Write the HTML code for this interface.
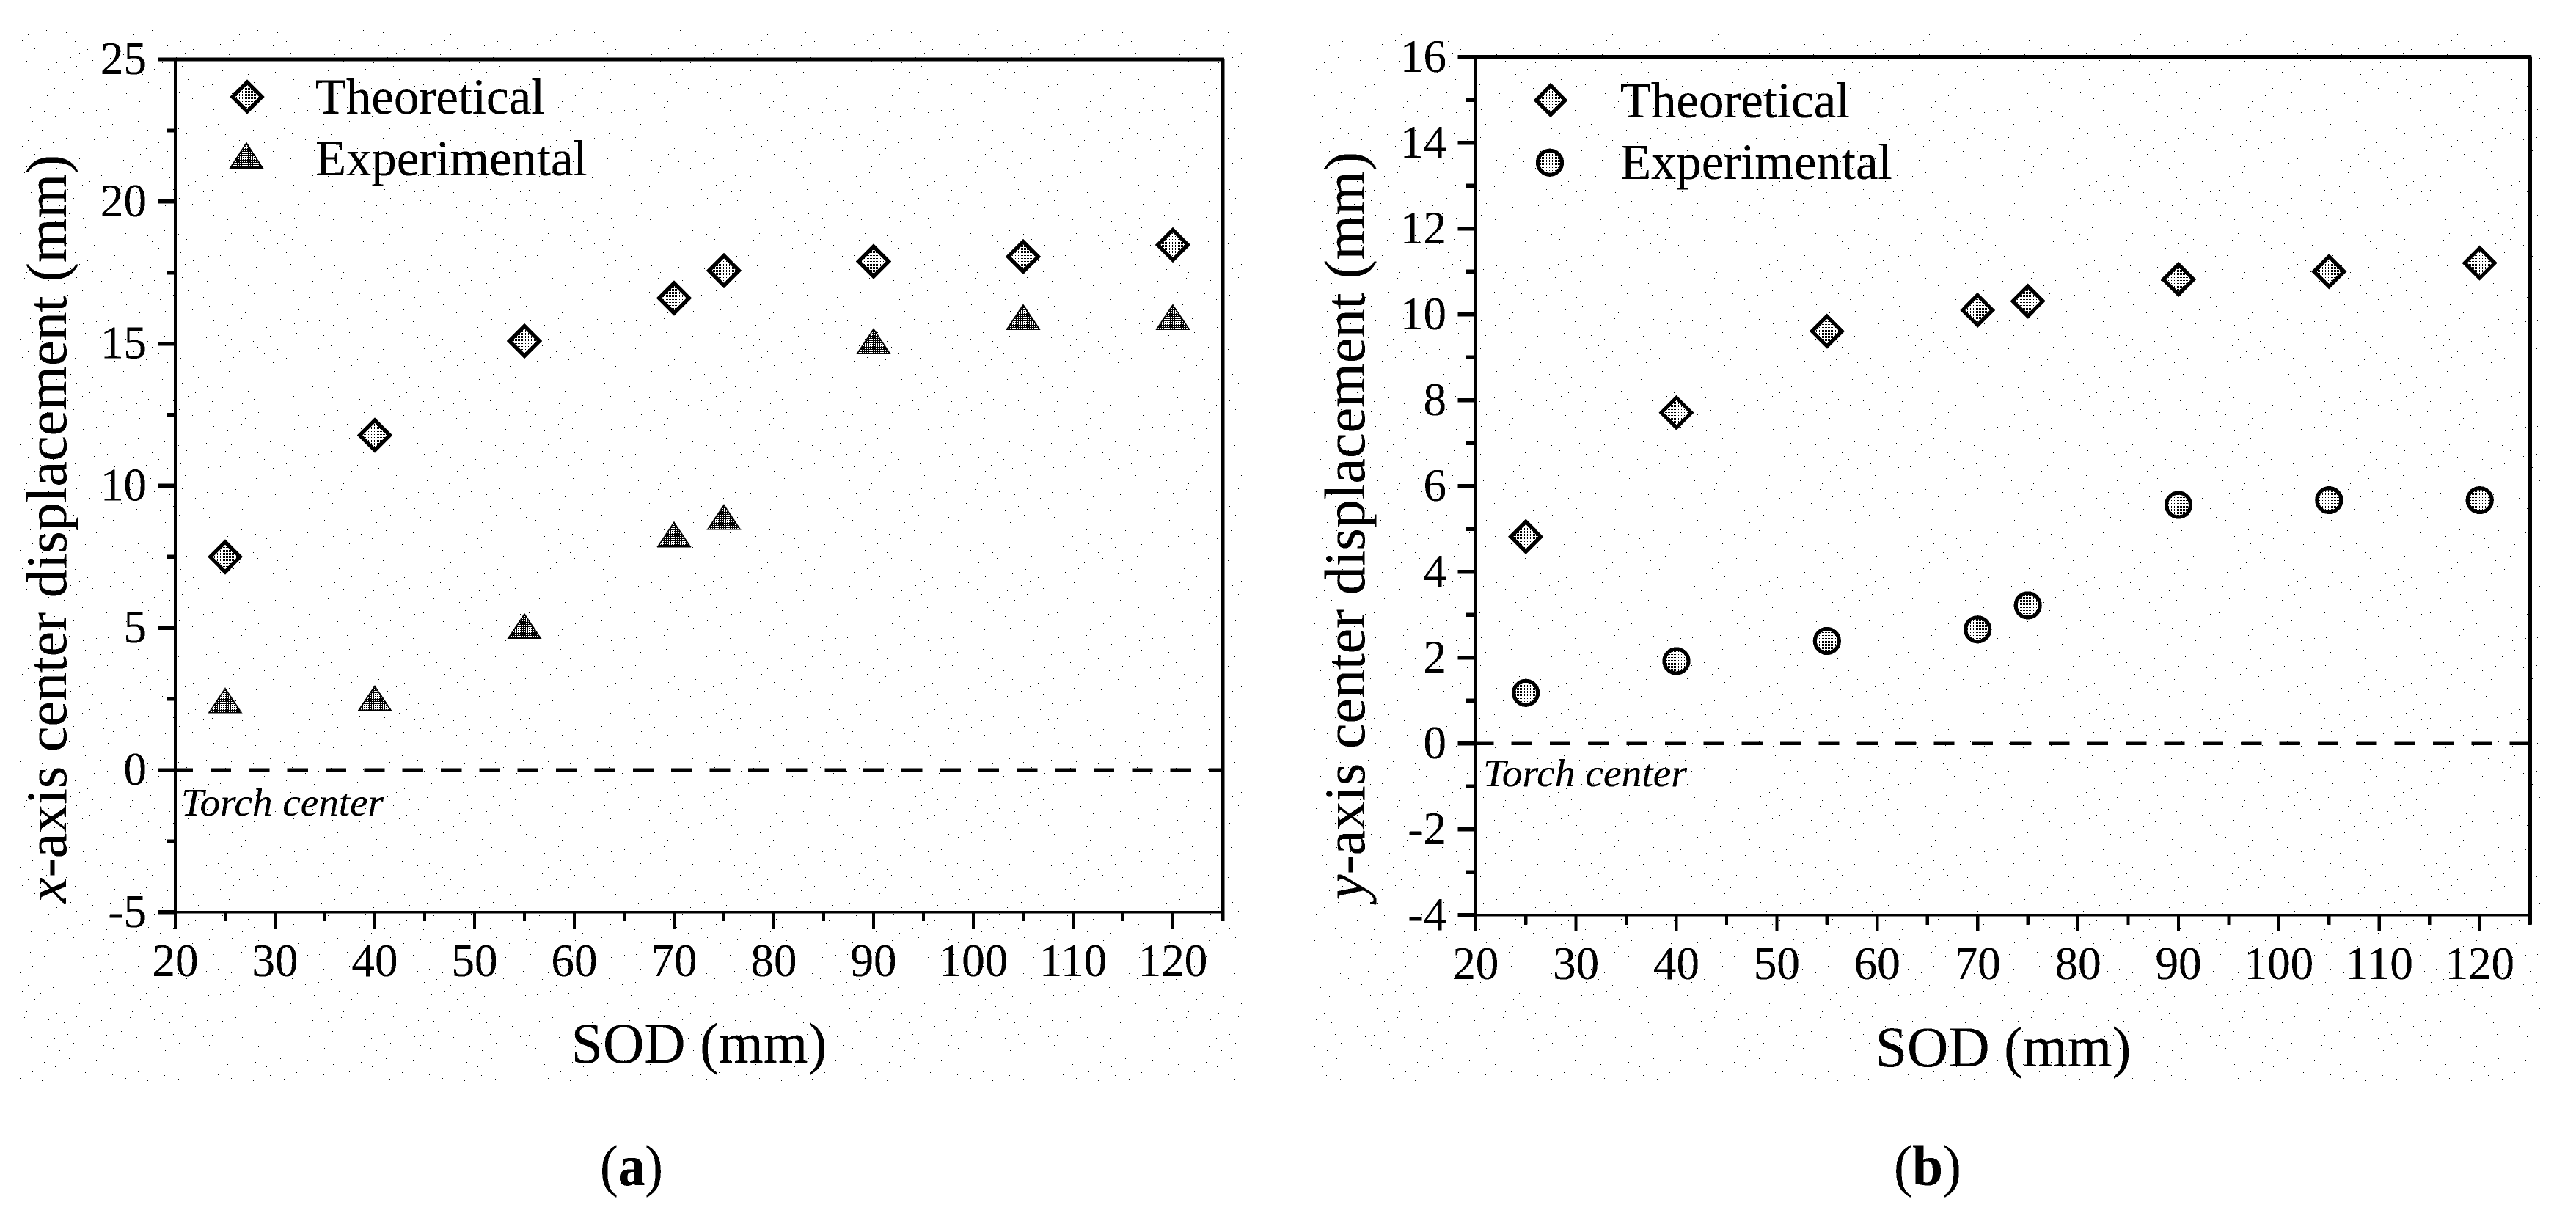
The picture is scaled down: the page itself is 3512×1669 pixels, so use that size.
<!DOCTYPE html>
<html lang="en">
<head>
<meta charset="utf-8">
<title>Center displacement versus SOD</title>
<style>
html,body{margin:0;padding:0;background:#fff;}
body{width:3512px;height:1669px;overflow:hidden;}
svg{display:block;}
text{font-family:"Liberation Serif",serif;fill:#000;}
</style>
</head>
<body>
<svg id="figure" xmlns="http://www.w3.org/2000/svg" width="3512" height="1669" viewBox="0 0 3512 1669">
<defs>
<pattern id="stipple" patternUnits="userSpaceOnUse" width="144" height="144">
<path fill="#000" d="M3 5h1v1h-1zM22 11h1v1h-1zM41 2h1v1h-1zM60 8h1v1h-1zM75 14h1v1h-1zM94 3h1v1h-1zM113 9h1v1h-1zM131 6h1v1h-1zM9 25h1v1h-1zM27 30h1v1h-1zM44 21h1v1h-1zM57 33h1v1h-1zM80 26h1v1h-1zM99 31h1v1h-1zM116 22h1v1h-1zM137 28h1v1h-1zM2 43h1v1h-1zM19 39h1v1h-1zM38 47h1v1h-1zM63 41h1v1h-1zM72 50h1v1h-1zM90 44h1v1h-1zM110 38h1v1h-1zM128 46h1v1h-1zM12 60h1v1h-1zM30 55h1v1h-1zM47 66h1v1h-1zM55 58h1v1h-1zM84 62h1v1h-1zM102 56h1v1h-1zM119 67h1v1h-1zM140 61h1v1h-1zM6 79h1v1h-1zM24 74h1v1h-1zM36 83h1v1h-1zM61 76h1v1h-1zM77 85h1v1h-1zM96 78h1v1h-1zM108 72h1v1h-1zM126 82h1v1h-1zM15 96h1v1h-1zM33 91h1v1h-1zM50 101h1v1h-1zM66 94h1v1h-1zM87 98h1v1h-1zM104 90h1v1h-1zM122 103h1v1h-1zM138 95h1v1h-1zM1 115h1v1h-1zM21 110h1v1h-1zM42 118h1v1h-1zM58 112h1v1h-1zM74 120h1v1h-1zM92 114h1v1h-1zM112 108h1v1h-1zM133 117h1v1h-1zM10 133h1v1h-1zM28 127h1v1h-1zM46 138h1v1h-1zM64 130h1v1h-1zM81 136h1v1h-1zM100 126h1v1h-1zM118 134h1v1h-1zM141 129h1v1h-1z"/>
</pattern>
<pattern id="fill-light" patternUnits="userSpaceOnUse" width="2" height="2">
<rect width="2" height="2" fill="#fff"/><rect width="1" height="1" fill="#000"/>
</pattern>
<pattern id="fill-dark" patternUnits="userSpaceOnUse" width="3" height="3">
<rect width="3" height="3" fill="#000"/><path fill="#fff" d="M0 0h2v1h-1v1h-1z"/>
</pattern>
<filter id="one-bit" filterUnits="userSpaceOnUse" x="0" y="0" width="3512" height="1669" color-interpolation-filters="sRGB">
<feComponentTransfer>
<feFuncR type="discrete" tableValues="0 0 0 1"/>
<feFuncG type="discrete" tableValues="0 0 0 1"/>
<feFuncB type="discrete" tableValues="0 0 0 1"/>
</feComponentTransfer>
</filter>
</defs>

<g id="root" filter="url(#one-bit)">
<rect x="0" y="0" width="3512" height="1669" fill="#fff"/>
<rect x="23" y="40" width="1670" height="1436" fill="url(#stipple)"/>
<rect x="1790" y="45" width="1676" height="1431" fill="url(#stipple)"/>

<g id="panel-a">
  <g id="panel-a-axes"></g>
  <g id="panel-a-marks"></g>
  <text x="247" y="1112" font-size="53" font-style="italic" textLength="276" lengthAdjust="spacingAndGlyphs">Torch center</text>
  <text transform="translate(90,1231) rotate(-90)" font-size="78"><tspan font-style="italic">x</tspan>-axis center displacement (mm)</text>
  <text x="953" y="1449" font-size="78" text-anchor="middle">SOD (mm)</text>
  <g>
    <polygon points="337,112 357,132 337,152 317,132" fill="url(#fill-light)" stroke="#000" stroke-width="5"/>
    <text x="430" y="155" font-size="68.8">Theoretical</text>
    <polygon points="336,195 358,229 314,229" fill="url(#fill-dark)" stroke="#000" stroke-width="1.5"/>
    <text x="430" y="239" font-size="68.8">Experimental</text>
  </g>
  <text x="818" y="1616" font-size="78" textLength="86" lengthAdjust="spacingAndGlyphs">(<tspan font-weight="bold">a</tspan>)</text>
</g>

<g id="panel-b">
  <g id="panel-b-axes"></g>
  <g id="panel-b-marks"></g>
  <text x="2022" y="1072" font-size="53" font-style="italic" textLength="278" lengthAdjust="spacingAndGlyphs">Torch center</text>
  <text transform="translate(1860,1227) rotate(-90)" font-size="78"><tspan font-style="italic">y</tspan>-axis center displacement (mm)</text>
  <text x="2731" y="1454" font-size="78" text-anchor="middle">SOD (mm)</text>
  <g>
    <polygon points="2114,116.7 2134,136.7 2114,156.7 2094,136.7" fill="url(#fill-light)" stroke="#000" stroke-width="5"/>
    <text x="2209" y="160" font-size="68.8">Theoretical</text>
    <circle cx="2113" cy="221.7" r="16.5" fill="url(#fill-light)" stroke="#000" stroke-width="5"/>
    <text x="2209" y="244" font-size="68.8">Experimental</text>
  </g>
  <text x="2582" y="1616" font-size="78" textLength="92" lengthAdjust="spacingAndGlyphs">(<tspan font-weight="bold">b</tspan>)</text>
</g>
</g>
</svg>

<script>
const sodValues = [25, 40, 55, 70, 75, 90, 105, 120];
const panelATheoretical = [7.5, 11.78, 15.09, 16.6, 17.57, 17.89, 18.06, 18.47];
const panelAExperimental = [2.38, 2.46, 5.0, 8.22, 8.83, 15.02, 15.87, 15.87];
const panelBTheoretical = [4.82, 7.71, 9.61, 10.1, 10.31, 10.82, 11.0, 11.2];
const panelBExperimental = [1.18, 1.92, 2.39, 2.66, 3.22, 5.56, 5.67, 5.67];
const xMajorTicks = [20, 30, 40, 50, 60, 70, 80, 90, 100, 110, 120];
const xMinorTicks = [25, 35, 45, 55, 65, 75, 85, 95, 105, 115, 125];
const panelAYMajorTicks = [25, 20, 15, 10, 5, 0, -5];
const panelAYMinorTicks = [22.5, 17.5, 12.5, 7.5, 2.5, -2.5];
const panelBYMajorTicks = [16, 14, 12, 10, 8, 6, 4, 2, 0, -2, -4];
const panelBYMinorTicks = [15, 13, 11, 9, 7, 5, 3, 1, -1, -3];

const SVG_NS = 'http://www.w3.org/2000/svg';

function scaleAX(v) { return 239 + (v - 20) * 13.6; }
function scaleAY(v) { return 1050 - v * 38.76; }
function scaleBX(v) { return 2011.7 + (v - 20) * 13.69; }
function scaleBY(v) { return 1013.8 - v * 58.5; }

function addLine(parent, x1, y1, x2, y2, width) {
  const el = document.createElementNS(SVG_NS, 'line');
  el.setAttribute('x1', x1);
  el.setAttribute('y1', y1);
  el.setAttribute('x2', x2);
  el.setAttribute('y2', y2);
  el.setAttribute('stroke', '#000');
  el.setAttribute('stroke-width', width);
  parent.appendChild(el);
  return el;
}

function addLabel(parent, x, y, anchor, content) {
  const el = document.createElementNS(SVG_NS, 'text');
  el.setAttribute('x', x);
  el.setAttribute('y', y);
  el.setAttribute('font-size', '63');
  el.setAttribute('text-anchor', anchor);
  el.textContent = content;
  parent.appendChild(el);
  return el;
}

function drawAxes(cfg) {
  const g = document.getElementById(cfg.groupId);
  const left = cfg.x(20), right = cfg.x(125);
  const top = cfg.y(cfg.yMajor[0]), bottom = cfg.y(cfg.yMajor[cfg.yMajor.length - 1]);

  const zero = addLine(g, cfg.dashStart, cfg.y(0), right, cfg.y(0), cfg.dashWidth);
  zero.setAttribute('stroke-dasharray', '28 24.35');
  
  

  const spineLeft = addLine(g, left, top, left, bottom + cfg.majorLen, cfg.spineWidth);
  
  
  const spineRight = addLine(g, right, top, right, bottom + cfg.minorLen, cfg.spineWidth + 1);
  
  
  const spineTop = addLine(g, left - cfg.yMajorLen, top, right + 2, top, 5);
  
  
  const spineBottom = addLine(g, left - cfg.yMajorLen, bottom, right, bottom, 3);
  
  

  xMajorTicks.forEach(function (v) {
    const tick = addLine(g, cfg.x(v), bottom, cfg.x(v), bottom + cfg.majorLen, 4);
    
    
    const label = addLabel(g, cfg.x(v), cfg.xLabelY, 'middle', String(v));
    
    
  });
  xMinorTicks.forEach(function (v) {
    const tick = addLine(g, cfg.x(v), bottom, cfg.x(v), bottom + cfg.minorLen, 4);
    
    
  });
  cfg.yMajor.forEach(function (v) {
    const tick = addLine(g, left - cfg.yMajorLen, cfg.y(v), left, cfg.y(v), 5);
    
    
    const label = addLabel(g, cfg.yLabelX, cfg.y(v) + 20, 'end', String(v));
    
    
  });
  cfg.yMinor.forEach(function (v) {
    const tick = addLine(g, left - cfg.yMinorLen, cfg.y(v), left, cfg.y(v), 5);
    
    
  });
}

function drawDiamonds(parentId, xs, ys, xScale, yScale) {
  const g = document.getElementById(parentId);
  xs.forEach(function (v, i) {
    const cx = xScale(v), cy = yScale(ys[i]), r = 20.5;
    const el = document.createElementNS(SVG_NS, 'polygon');
    el.setAttribute('points', cx + ',' + (cy - r) + ' ' + (cx + r) + ',' + cy + ' ' + cx + ',' + (cy + r) + ' ' + (cx - r) + ',' + cy);
    el.setAttribute('fill', 'url(#fill-light)');
    el.setAttribute('stroke', '#000');
    el.setAttribute('stroke-width', '5');
    
    
    g.appendChild(el);
  });
}

function drawTriangles(parentId, xs, ys, xScale, yScale) {
  const g = document.getElementById(parentId);
  xs.forEach(function (v, i) {
    const cx = xScale(v), cy = yScale(ys[i]);
    const el = document.createElementNS(SVG_NS, 'polygon');
    el.setAttribute('points', cx + ',' + (cy - 19) + ' ' + (cx + 22) + ',' + (cy + 14) + ' ' + (cx - 22) + ',' + (cy + 14));
    el.setAttribute('fill', 'url(#fill-dark)');
    el.setAttribute('stroke', '#000');
    el.setAttribute('stroke-width', '1.5');
    
    
    g.appendChild(el);
  });
}

function drawCircles(parentId, xs, ys, xScale, yScale) {
  const g = document.getElementById(parentId);
  xs.forEach(function (v, i) {
    const el = document.createElementNS(SVG_NS, 'circle');
    el.setAttribute('cx', xScale(v));
    el.setAttribute('cy', yScale(ys[i]));
    el.setAttribute('r', '16.5');
    el.setAttribute('fill', 'url(#fill-light)');
    el.setAttribute('stroke', '#000');
    el.setAttribute('stroke-width', '5');
    
    
    g.appendChild(el);
  });
}

drawAxes({
  groupId: 'panel-a-axes', x: scaleAX, y: scaleAY,
  yMajor: panelAYMajorTicks, yMinor: panelAYMinorTicks,
  majorLen: 23, minorLen: 12, yMajorLen: 23, yMinorLen: 12,
  spineWidth: 4, dashStart: 234.7, dashWidth: 5, xLabelY: 1331, yLabelX: 200
});
drawAxes({
  groupId: 'panel-b-axes', x: scaleBX, y: scaleBY,
  yMajor: panelBYMajorTicks, yMinor: panelBYMinorTicks,
  majorLen: 22, minorLen: 13, yMajorLen: 24, yMinorLen: 13,
  spineWidth: 4, dashStart: 2008.3, dashWidth: 4, xLabelY: 1335, yLabelX: 1972
});

drawDiamonds('panel-a-marks', sodValues, panelATheoretical, scaleAX, scaleAY);
drawTriangles('panel-a-marks', sodValues, panelAExperimental, scaleAX, scaleAY);
drawDiamonds('panel-b-marks', sodValues, panelBTheoretical, scaleBX, scaleBY);
drawCircles('panel-b-marks', sodValues, panelBExperimental, scaleBX, scaleBY);
</script>
</body>
</html>
